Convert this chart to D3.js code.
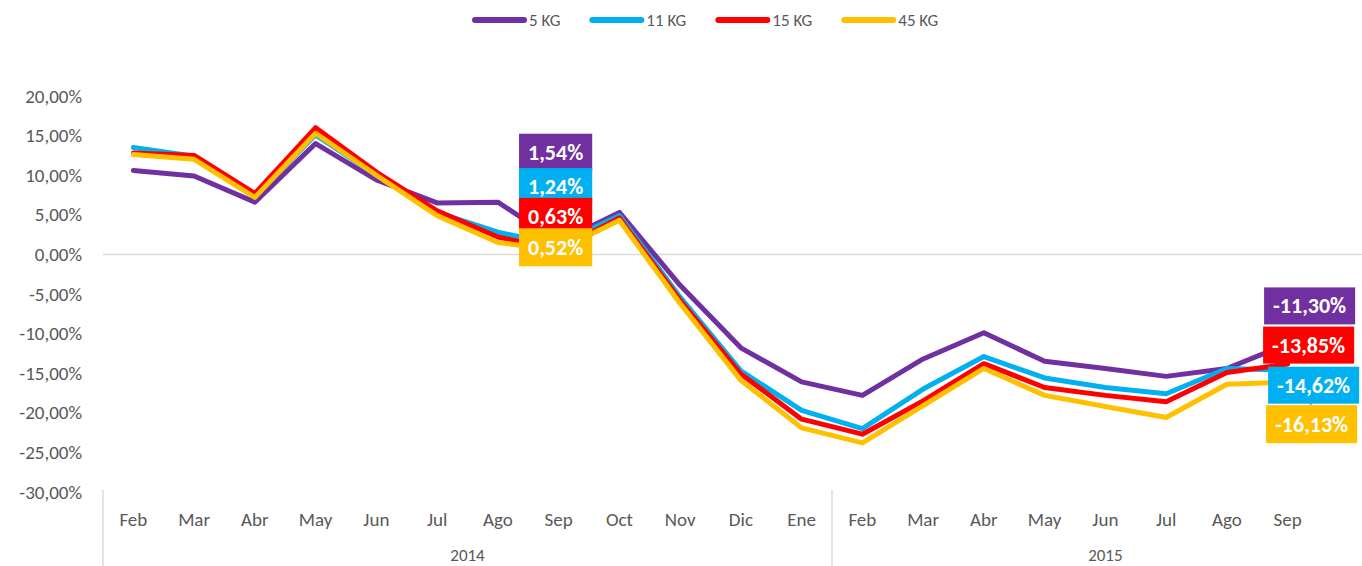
<!DOCTYPE html>
<html>
<head>
<meta charset="utf-8">
<script src="https://cdn.jsdelivr.net/npm/d3@7"></script>
<style>
  body { margin: 0; background: #fff; }
  svg { display: block; font-family: Carlito, Lato, "Open Sans", sans-serif; }
</style>
</head>
<body>
<svg id="chart" width="1362" height="566"></svg>
<script>
// months along the x axis (last slot of 2015 is empty)
var months = ["Feb","Mar","Abr","May","Jun","Jul","Ago","Sep","Oct","Nov","Dic","Ene",
              "Feb","Mar","Abr","May","Jun","Jul","Ago","Sep",""];
var years = [{ label: "2014", count: 12 }, { label: "2015", count: 9 }];

var seriesNames = ["5 KG", "11 KG", "15 KG", "45 KG"];
var seriesColors = ["#7030a0", "#00b0f0", "#ff0000", "#ffc000"];

// values in %
var kg5  = [10.6, 9.9, 6.6, 14.0, 9.4, 6.5, 6.6, 1.54, 5.3, -3.9, -11.8, -16.1,
            -17.8, -13.2, -9.9, -13.5, -14.4, -15.4, -14.4, -11.30];
var kg11 = [13.5, 12.4, 7.3, 15.1, 10.0, 5.3, 2.8, 1.24, 4.9, -5.4, -14.7, -19.7,
            -22.0, -17.0, -12.9, -15.6, -16.8, -17.6, -14.4, -14.62];
var kg15 = [12.8, 12.5, 7.7, 16.0, 10.4, 5.5, 2.2, 0.63, 4.6, -5.8, -15.1, -20.8,
            -22.7, -18.5, -13.8, -16.8, -17.8, -18.6, -14.9, -13.85];
var kg45 = [12.6, 12.0, 7.2, 15.3, 10.0, 4.9, 1.5, 0.52, 4.3, -6.2, -15.9, -21.9,
            -23.8, -19.1, -14.4, -17.8, -19.2, -20.6, -16.4, -16.13];
var allSeries = [kg5, kg11, kg15, kg45];

var yTicks = [20, 15, 10, 5, 0, -5, -10, -15, -20, -25, -30];

// which points carry a value label
var labelIndexes = [7, 19];

// label placement (pixel nudges from the point), per series, per labelled point
var labelNudge = [
  [[-3, -90], [22, -38]],
  [[-3, -58], [26, 15]],
  [[-3, -33], [21, -19]],
  [[-3, -3],  [24, 42]]
];
var labelHeights = [37, 37, 37, 38];

var svg = d3.select("#chart");
// Excel-style number: comma decimal, plain hyphen for minus
var pct = function (v) { return d3.format(".2f")(v).replace("\u2212", "-").replace(".", ",") + "%"; };

var left = 103, bandW = 60.75;
var x = d3.scaleBand()
  .domain(d3.range(months.length))
  .range([left, left + bandW * months.length]);

var y = d3.scaleLinear().domain([-30, 20]).range([492, 96]);

// y axis labels
var yAxis = d3.axisLeft(y).tickValues(yTicks).tickSize(0).tickPadding(0).tickFormat(pct);
var gy = svg.append("g").attr("transform", "translate(82,0)").call(yAxis);
gy.select(".domain").remove();
gy.selectAll("text").attr("fill", "#595959").style("font-size", "19px")
  .style("font-family", "Carlito, Lato, sans-serif");

// zero line
svg.append("line")
  .attr("x1", left).attr("x2", 1362)
  .attr("y1", y(0)).attr("y2", y(0))
  .attr("stroke", "#d9d9d9").attr("stroke-width", 1.5);

// month labels
svg.append("g").selectAll("text").data(months).join("text")
  .attr("x", function (d, i) { return x(i) + x.bandwidth() / 2; })
  .attr("y", 526)
  .attr("text-anchor", "middle")
  .attr("fill", "#595959")
  .style("font-size", "19px")
  .text(function (d) { return d; });

// year groups and separators
var start = 0;
years.forEach(function (yr) {
  var x0 = x(start), x1 = x(start) + bandW * yr.count;
  svg.append("line").attr("x1", x0).attr("x2", x0).attr("y1", 490).attr("y2", 566)
    .attr("stroke", "#d9d9d9").attr("stroke-width", 1.5);
  svg.append("text")
    .attr("x", (x0 + x1) / 2).attr("y", 561)
    .attr("text-anchor", "middle").attr("fill", "#595959")
    .style("font-size", "17px").text(yr.label);
  start += yr.count;
});

// lines
var line = d3.line()
  .x(function (d, i) { return x(i) + x.bandwidth() / 2; })
  .y(function (d) { return y(d); });

svg.append("g").selectAll("path").data(allSeries).join("path")
  .attr("d", line)
  .attr("fill", "none")
  .attr("stroke", function (d, i) { return seriesColors[i]; })
  .attr("stroke-width", 5)
  .attr("stroke-linejoin", "round")
  .attr("stroke-linecap", "round");

// leader line for the yellow label at the end
var li = labelIndexes[1];
svg.append("line")
  .attr("x1", x(li) + x.bandwidth() / 2).attr("y1", y(kg45[li]))
  .attr("x2", x(li) + x.bandwidth() / 2 + 24).attr("y2", y(kg45[li]) + 23)
  .attr("stroke", "#a6a6a6").attr("stroke-width", 1.5);

// value labels
var gl = svg.append("g");
labelIndexes.forEach(function (idx, k) {
  allSeries.forEach(function (s, si) {
    var cx = x(idx) + x.bandwidth() / 2 + labelNudge[si][k][0];
    var cy = y(s[idx]) + labelNudge[si][k][1];
    var g = gl.append("g");
    var t = g.append("text")
      .attr("x", cx).attr("y", cy)
      .attr("text-anchor", "middle").attr("dominant-baseline", "central")
      .attr("fill", "#fff").style("font-size", "22px").style("font-weight", "bold")
      .text(pct(s[idx]));
    var w = t.node().getComputedTextLength() + 18;
    var h = labelHeights[si];
    g.insert("rect", "text")
      .attr("x", cx - w / 2).attr("y", cy - h / 2)
      .attr("width", w).attr("height", h)
      .attr("fill", seriesColors[si]);
  });
});

// legend
var lg = svg.append("g");
var lx = 472;
seriesNames.forEach(function (name, i) {
  lg.append("line").attr("x1", lx + 3).attr("x2", lx + 52).attr("y1", 20).attr("y2", 20)
    .attr("stroke", seriesColors[i]).attr("stroke-width", 6).attr("stroke-linecap", "round");
  var t = lg.append("text").attr("x", lx + 57).attr("y", 20)
    .attr("dominant-baseline", "central").attr("fill", "#595959")
    .style("font-size", "17px").text(name);
  lx += 57 + t.node().getComputedTextLength() + 29;
});
</script>
</body>
</html>
